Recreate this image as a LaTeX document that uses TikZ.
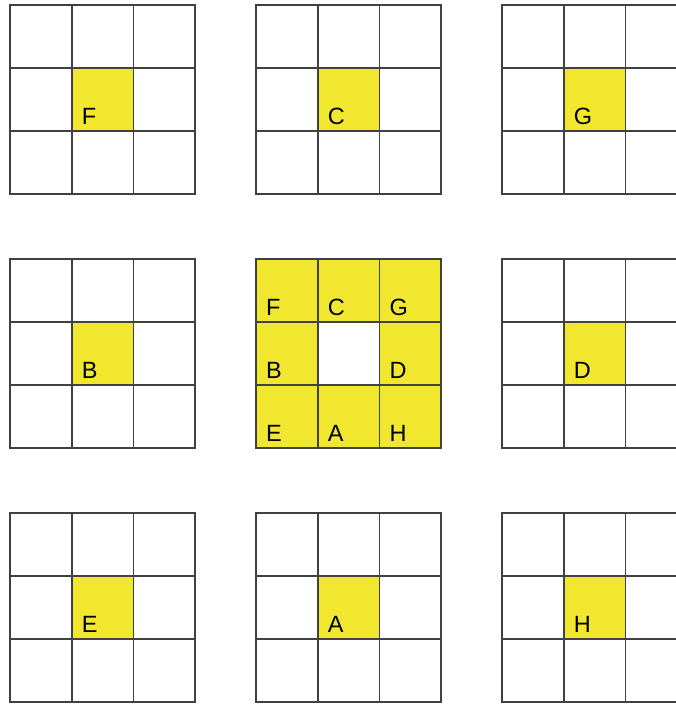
\documentclass[tikz,border=0pt]{standalone}
\usepackage{fontspec}
\setmainfont{Liberation Sans}
\definecolor{cellyellow}{RGB}{240,231,46}
\definecolor{linegray}{RGB}{65,65,65}
\begin{document}
\begin{tikzpicture}[x=1pt,y=-1pt,
  cell/.style={draw=linegray, line width=1.6pt},
  letter/.style={anchor=base west, inner sep=0pt, font=\fontsize{23.5}{23.5}\selectfont}
]
\useasboundingbox (0,0) rectangle (676,704);
\def\cw{61.7}
\def\ch{63}
\foreach \L/\i/\j in {F/0/0, C/1/0, G/2/0, B/0/1, D/2/1, E/0/2, A/1/2, H/2/2} {
  \pgfmathsetmacro\gx{10+246*\i}
  \pgfmathsetmacro\gy{5+254*\j}
  % small grid, centre cell marked
  \fill[cellyellow] (\gx+\cw,\gy+\ch) rectangle ++(\cw,\ch);
  \node[letter] (out\L) at (\gx+\cw+10,\gy+2*\ch-7) {\L};
  \foreach \c in {0,1,2}
    \foreach \r in {0,1,2}
      \draw[cell] (\gx+\c*\cw,\gy+\r*\ch) rectangle ++(\cw,\ch);
  % same cell in the middle grid
  \fill[cellyellow] (256+\i*\cw,259+\j*\ch) rectangle ++(\cw,\ch);
  \node[letter] (mid\L) at (256+\i*\cw+10,259+\j*\ch+\ch-7) {\L};
}
\foreach \c in {0,1,2}
  \foreach \r in {0,1,2}
    \draw[cell] (256+\c*\cw,259+\r*\ch) rectangle ++(\cw,\ch);
\end{tikzpicture}
\end{document}
